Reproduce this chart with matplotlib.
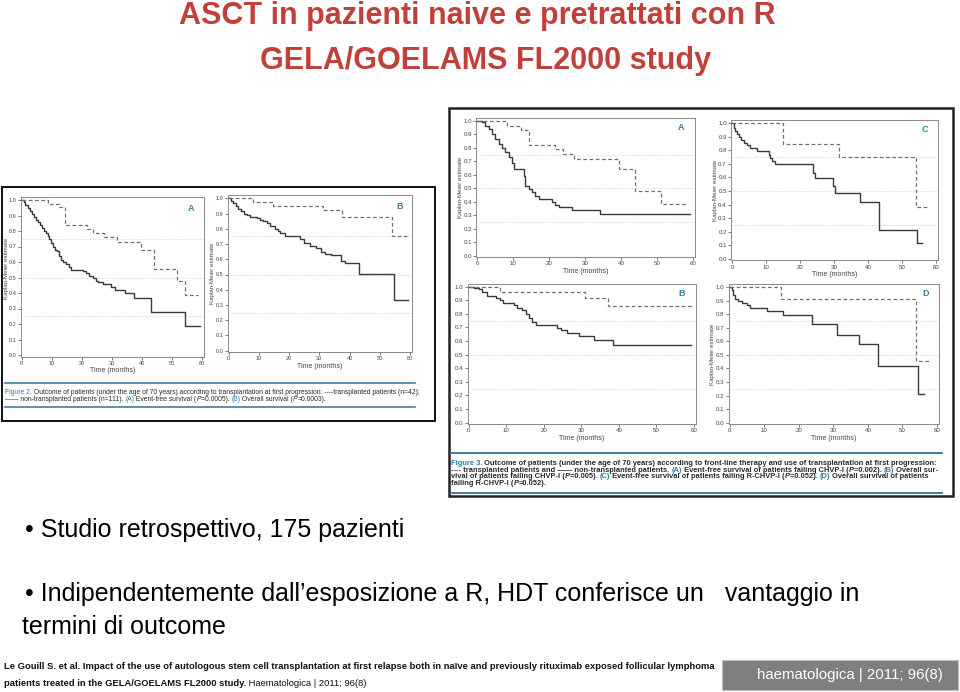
import matplotlib
matplotlib.use("Agg")
import matplotlib.pyplot as plt
from matplotlib import font_manager as fm
from matplotlib.patches import Rectangle

W, H = 960, 692

# narrow font if it is there
_names = {f.name for f in fm.fontManager.ttflist}
NARROW = "Liberation Sans Narrow" if "Liberation Sans Narrow" in _names else "Liberation Sans"

RED = "#C2403A"
TEAL = "#2B7FA3"
DARK = "#2a2a2a"

# ---- data: Kaplan-Meier curves (time in months, survival) ----
# Figure 2 A: event-free survival
f2a_tx_t = [0, 8.6, 12.3, 14.5, 21.8, 23.8, 27.4, 31.6, 39.9, 44.0, 51.6, 54.4, 58.8]
f2a_tx_s = [1.0, 0.975, 0.955, 0.84, 0.815, 0.785, 0.76, 0.73, 0.675, 0.555, 0.475, 0.385, 0.385]
f2a_no_t = [0, 0.6, 1.2, 2.0, 2.6, 3.3, 4.0, 4.6, 5.4, 6.0, 6.7, 7.4, 8.0, 8.6, 9.2, 9.8, 10.4,
            11.0, 11.8, 12.4, 13.0, 13.9, 14.8, 15.6, 16.5, 20.5, 21.5, 22.5, 23.8, 24.6, 25.5,
            27.0, 29.8, 31.2, 34.5, 37.5, 43.0, 54.5, 59.5]
f2a_no_s = [1.0, 0.99, 0.97, 0.95, 0.93, 0.91, 0.89, 0.87, 0.86, 0.84, 0.82, 0.80, 0.79, 0.77,
            0.75, 0.72, 0.70, 0.68, 0.67, 0.64, 0.61, 0.60, 0.59, 0.57, 0.55, 0.54, 0.53, 0.51,
            0.50, 0.48, 0.47, 0.46, 0.44, 0.42, 0.40, 0.37, 0.28, 0.19, 0.19]
# Figure 2 B: overall survival
f2b_tx_t = [0, 8.2, 14.8, 31.3, 37.4, 54.2, 59.1]
f2b_tx_s = [1.0, 0.975, 0.95, 0.92, 0.875, 0.75, 0.75]
f2b_no_t = [0, 0.7, 1.5, 2.3, 3.2, 4.0, 4.9, 6.0, 7.1, 9.3, 10.5, 11.5, 12.6, 13.7, 15.3, 16.2,
            17.0, 18.6, 23.5, 25.0, 27.0, 29.0, 30.5, 32.0, 34.0, 37.0, 38.5, 43.0, 54.8, 59.4]
f2b_no_s = [1.0, 0.985, 0.97, 0.95, 0.93, 0.915, 0.90, 0.89, 0.88, 0.87, 0.86, 0.85, 0.835, 0.82,
            0.80, 0.785, 0.77, 0.755, 0.73, 0.705, 0.69, 0.675, 0.65, 0.635, 0.625, 0.59, 0.575,
            0.505, 0.335, 0.335]
# Figure 3 A: EFS failing CHVP-I
f3a_tx_t = [0, 8.3, 12.2, 14.3, 21.5, 23.7, 26.8, 39.3, 43.8, 51.2, 58.3]
f3a_tx_s = [1.0, 0.965, 0.93, 0.825, 0.79, 0.755, 0.72, 0.645, 0.48, 0.385, 0.385]
f3a_no_t = [0, 1.3, 2.2, 3.2, 4.1, 5.0, 5.9, 6.8, 7.8, 8.7, 9.6, 10.1, 12.9, 13.4, 14.3, 15.2,
            16.1, 17.1, 20.8, 21.7, 22.6, 26.3, 34.2, 59.3]
f3a_no_s = [1.0, 0.99, 0.965, 0.94, 0.90, 0.87, 0.83, 0.80, 0.77, 0.73, 0.69, 0.64, 0.59, 0.52,
            0.495, 0.47, 0.445, 0.42, 0.40, 0.38, 0.36, 0.34, 0.31, 0.31]
# Figure 3 B: OS failing CHVP-I
f3b_tx_t = [0, 8.3, 31.1, 37.2, 59.5]
f3b_tx_s = [1.0, 0.96, 0.92, 0.86, 0.86]
f3b_no_t = [0, 1.4, 2.75, 3.6, 5.0, 7.2, 8.3, 9.2, 12.1, 12.95, 14.3, 15.2, 16.1, 16.95, 17.8,
            23.6, 24.5, 26.3, 29.4, 33.5, 38.5, 59.1]
f3b_no_s = [1.0, 0.99, 0.98, 0.96, 0.93, 0.917, 0.90, 0.88, 0.863, 0.843, 0.826, 0.80, 0.77,
            0.74, 0.72, 0.696, 0.68, 0.66, 0.64, 0.605, 0.57, 0.57]
# Figure 3 C: EFS failing R-CHVP-I
f3c_tx_t = [0, 15.0, 31.4, 54.2, 57.4]
f3c_tx_s = [1.0, 0.843, 0.75, 0.385, 0.385]
f3c_no_t = [0, 0.5, 1.0, 1.5, 2.0, 2.6, 3.4, 4.4, 5.4, 7.4, 10.8, 11.3, 11.8, 12.5, 23.8, 24.5,
            29.7, 30.4, 37.5, 43.1, 54.4, 55.9]
f3c_no_s = [1.0, 0.965, 0.94, 0.917, 0.90, 0.875, 0.855, 0.835, 0.815, 0.795, 0.765, 0.74, 0.72,
            0.70, 0.635, 0.593, 0.54, 0.483, 0.42, 0.213, 0.115, 0.115]
# Figure 3 D: OS failing R-CHVP-I
f3d_tx_t = [0, 14.75, 53.8, 58.0]
f3d_tx_s = [1.0, 0.914, 0.455, 0.455]
f3d_no_t = [0, 0.6, 1.06, 1.5, 2.5, 3.5, 4.9, 5.9, 10.7, 15.5, 23.9, 31.0, 37.4, 43.0, 54.6, 56.2]
f3d_no_s = [1.0, 0.975, 0.94, 0.914, 0.90, 0.885, 0.865, 0.845, 0.82, 0.796, 0.73, 0.649, 0.582,
            0.418, 0.214, 0.214]

x_ticks = [0, 10, 20, 30, 40, 50, 60]
y_ticks = [0.0, 0.1, 0.2, 0.3, 0.4, 0.5, 0.6, 0.7, 0.8, 0.9, 1.0]
grid_levels = [0.25, 0.5, 0.75]

title_lines = ["ASCT in pazienti naive e pretrattati con R", "GELA/GOELAMS FL2000 study"]
bullet_1 = "\u2022 Studio retrospettivo, 175 pazienti"
bullet_2a = "\u2022 Indipendentemente dall\u2019esposizione a R, HDT conferisce un   vantaggio in"
bullet_2b = "termini di outcome"
ref_line1 = ("Le Gouill S. et al. Impact of the use of autologous stem cell transplantation at first "
             "relapse both in na\u00efve and previously rituximab exposed follicular lymphoma")
ref_line2 = "patients treated in the GELA/GOELAMS FL2000 study."
ref_tail = " Haematologica | 2011; 96(8)"
badge = "haematologica | 2011; 96(8)"

fig = plt.figure(figsize=(9.6, 6.92), dpi=100)

# pixel overlay for frames and texts
ov = fig.add_axes([0, 0, 1, 1])
ov.set_xlim(0, W)
ov.set_ylim(H, 0)
ov.axis("off")


def km_plot(box, tx, no, letter, ylabel=True, ylab_px=None, tick_size=4.4):
    xa, xb, yt, yb = box
    ppx = (xb - xa) / 60.0
    ppy = (yb - yt) / 1.0
    l, r, t, b = xa - 1, xb + 2, yt - 3, yb + 1.5
    ax = fig.add_axes([l / W, 1 - b / H, (r - l) / W, (b - t) / H])
    ax.set_facecolor("none")
    ax.set_xlim(-1 / ppx, 60 + 2 / ppx)
    ax.set_ylim(-1.5 / ppy, 1 + 3 / ppy)
    for g in grid_levels:
        ax.axhline(g, color="#d4d4d4", lw=0.6, ls=(0, (1, 1)), zorder=0)
    ax.step(no[0], no[1], where="post", color="#3a3a3a", lw=1.0)
    ax.step(tx[0], tx[1], where="post", color="#707070", lw=0.9, ls=(0, (3, 2)))
    ax.set_xticks(x_ticks)
    ax.set_yticks(y_ticks)
    ax.set_yticklabels([f"{v:.1f}" for v in y_ticks])
    ax.tick_params(labelsize=tick_size, length=2, width=0.5, pad=1, colors="#444444")
    for lab in ax.get_xticklabels() + ax.get_yticklabels():
        lab.set_family(NARROW)
    for sp in ax.spines.values():
        sp.set_color("#8a8a8a")
        sp.set_linewidth(0.7)
    ax.set_xlabel("Time (months)", fontsize=5, family=NARROW, color="#444444", labelpad=1)
    if ylabel:
        ax.set_ylabel("Kaplan-Meier estimate", fontsize=4.4, family=NARROW, color="#444444",
                      labelpad=0.5)
        if ylab_px is not None:
            ax.yaxis.set_label_coords((ylab_px - l) / (r - l), 0.55)
    ax.text(0.95, 0.93, letter, transform=ax.transAxes, ha="right", va="center",
            fontsize=6.5, fontweight="bold", color=TEAL, family=NARROW)
    return ax


def seg_line(x, y, parts, size, weight):
    prev = None
    for s, col, style in parts:
        kw = dict(fontsize=size, family=NARROW, color=col, fontweight=weight, fontstyle=style)
        if prev is None:
            prev = ov.text(x, y, s, ha="left", va="baseline", **kw)
        else:
            prev = ov.annotate(s, xy=(1, 0), xycoords=prev, ha="left", va="bottom", **kw)
    return prev


# ---- Figure 2 panel ----
ov.add_patch(Rectangle((1.5, 186.5), 433, 234, fill=False, ec="#111111", lw=1.4))
km_plot((21.7, 201.7, 200, 355), (f2a_tx_t, f2a_tx_s), (f2a_no_t, f2a_no_s), "A",
        ylab_px=8.6, tick_size=4.0)
km_plot((228.7, 410, 198.3, 350.7), (f2b_tx_t, f2b_tx_s), (f2b_no_t, f2b_no_s), "B",
        tick_size=4.0)
ov.plot([5, 415], [383, 383], color="#3d7f9e", lw=1.2)
ov.plot([5, 415], [407, 407], color="#3d7f9e", lw=1.2)
seg_line(5, 394, [("Figure 2.", TEAL, "normal"),
                  (" Outcome of patients (under the age of 70 years) according to transplantation "
                   "at first progression: ----transplanted patients (n=42);", DARK, "normal")],
         4.85, "normal")
seg_line(5, 401, [("\u2014\u2014 non-transplanted patients (n=111). ", DARK, "normal"),
                  ("(A)", TEAL, "normal"), (" Event-free survival (", DARK, "normal"),
                  ("P", DARK, "italic"), ("=0.0005). ", DARK, "normal"),
                  ("(B)", TEAL, "normal"), (" Overall survival (", DARK, "normal"),
                  ("P", DARK, "italic"), ("=0.0003).", DARK, "normal")],
         4.85, "normal")

# ---- Figure 3 panel ----
ov.add_patch(Rectangle((448.5, 107.5), 504, 388, fill=False, ec="#222222", lw=1.8))
km_plot((477.3, 693, 121, 255.7), (f3a_tx_t, f3a_tx_s), (f3a_no_t, f3a_no_s), "A")
km_plot((732, 936, 123, 259), (f3c_tx_t, f3c_tx_s), (f3c_no_t, f3c_no_s), "C")
km_plot((468.7, 694, 286.7, 422.7), (f3b_tx_t, f3b_tx_s), (f3b_no_t, f3b_no_s), "B", ylabel=False)
km_plot((729.7, 937, 287, 422.7), (f3d_tx_t, f3d_tx_s), (f3d_no_t, f3d_no_s), "D")
ov.plot([451, 942], [452.7, 452.7], color="#3d7f9e", lw=1.4)
ov.plot([451, 942], [492.7, 492.7], color="#3d7f9e", lw=1.4)
cap_size = 5.45
seg_line(451, 465, [("Figure 3.", TEAL, "normal"),
                    (" Outcome of patients (under the age of 70 years) according to front-line therapy "
                     "and use of transplantation at first progression:", DARK, "normal")],
         cap_size, "bold")
seg_line(451, 471.7, [("---- transplanted patients and \u2014\u2014 non-transplanted patients. ", DARK, "normal"),
                      ("(A)", TEAL, "normal"),
                      (" Event-free survival of patients failing CHVP-I (", DARK, "normal"),
                      ("P", DARK, "italic"), ("=0.002). ", DARK, "normal"),
                      ("(B)", TEAL, "normal"), (" Overall sur-", DARK, "normal")],
         cap_size, "bold")
seg_line(451, 478.4, [("vival of patients failing CHVP-I (", DARK, "normal"),
                      ("P", DARK, "italic"), ("=0.005). ", DARK, "normal"),
                      ("(C)", TEAL, "normal"),
                      (" Event-free survival of patients failing R-CHVP-I (", DARK, "normal"),
                      ("P", DARK, "italic"), ("=0.052). ", DARK, "normal"),
                      ("(D)", TEAL, "normal"), (" Overall survival of patients", DARK, "normal")],
         cap_size, "bold")
seg_line(451, 485.1, [("failing R-CHVP-I (", DARK, "normal"), ("P", DARK, "italic"),
                      ("=0.052).", DARK, "normal")],
         cap_size, "bold")

# ---- slide texts ----
ov.text(477, 16, title_lines[0], ha="center", va="center", fontsize=22.0, fontweight="bold",
        color=RED, family=NARROW)
ov.text(486, 61, title_lines[1], ha="center", va="center", fontsize=22.0, fontweight="bold",
        color=RED, family=NARROW)

ov.text(25, 530, bullet_1, ha="left", va="center", fontsize=18, color="black", family=NARROW)
ov.text(25, 594, bullet_2a, ha="left", va="center", fontsize=18, color="black", family=NARROW)
ov.text(22, 627, bullet_2b, ha="left", va="center", fontsize=18, color="black", family=NARROW)

ref_size = 6.75
ov.text(4, 669, ref_line1, ha="left", va="baseline", fontsize=ref_size, fontweight="bold",
        color="#111111", family=NARROW)
t2 = ov.text(4, 686, ref_line2, ha="left", va="baseline", fontsize=ref_size, fontweight="bold",
             color="#111111", family=NARROW)
ov.annotate(ref_tail, xy=(1, 0), xycoords=t2, ha="left", va="bottom", fontsize=ref_size,
            color="#111111", family=NARROW)

ov.add_patch(Rectangle((722, 660), 236, 30, fc="#7f7f7f", ec="#bdbdbd", lw=0.8))
ov.text(850, 675, badge, ha="center", va="center", fontsize=10.8, color="white", family=NARROW)

fig.savefig("out.png", dpi=100)
